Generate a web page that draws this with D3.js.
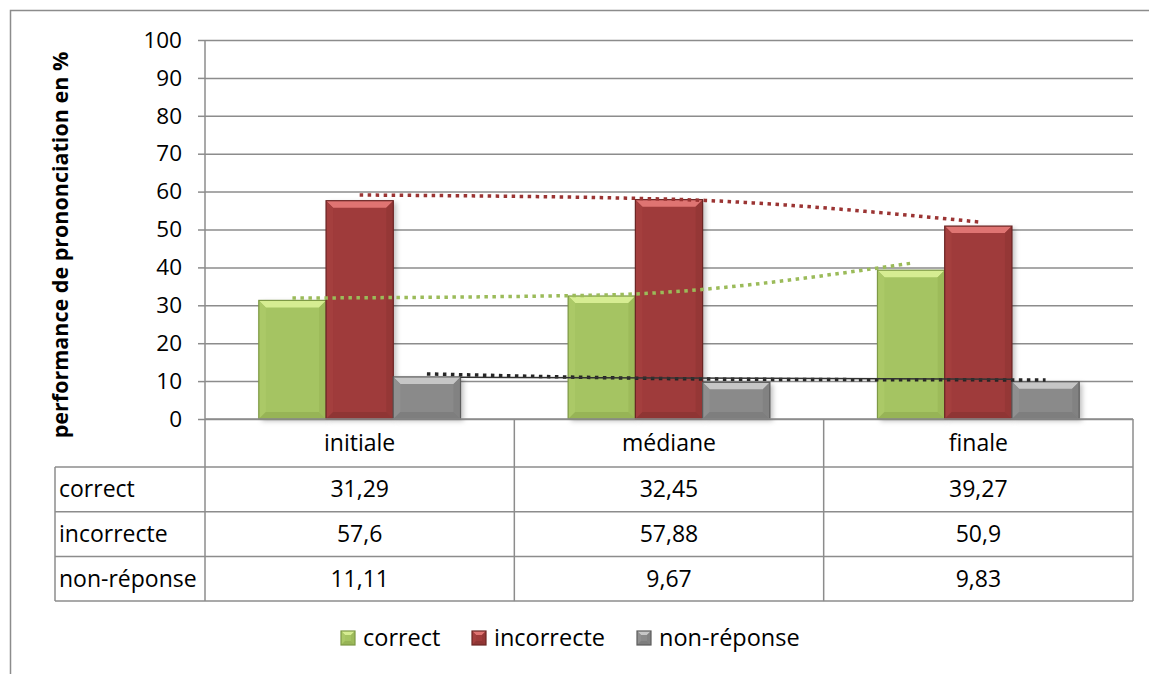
<!DOCTYPE html>
<html>
<head>
<meta charset="utf-8">
<script src="https://cdn.jsdelivr.net/npm/d3@7"></script>
<style>
  html, body { margin: 0; padding: 0; background: #ffffff; }
  svg { display: block; font-family: "Open Sans", sans-serif; }
</style>
</head>
<body>
<svg id="chart" width="1149" height="674"></svg>
<script>
// Data
const categories = ["initiale", "médiane", "finale"];
const seriesNames = ["correct", "incorrecte", "non-réponse"];
const correctValues = [31.29, 32.45, 39.27];
const incorrectValues = [57.6, 57.88, 50.9];
const nonReponseValues = [11.11, 9.67, 9.83];
const tableLabels = [["31,29", "32,45", "39,27"], ["57,6", "57,88", "50,9"], ["11,11", "9,67", "9,83"]];
// dotted trend lines, values read at each bar centre
const correctTrend = [31.9, 32.7, 41.1];
const incorrectTrend = [59.1, 58.0, 52.0];
const nonReponseTrend = [11.9, 10.5, 10.3];
const yTicks = [0, 10, 20, 30, 40, 50, 60, 70, 80, 90, 100];

const seriesValues = [correctValues, incorrectValues, nonReponseValues];
const seriesTrends = [correctTrend, incorrectTrend, nonReponseTrend];

// Colours for the bevelled bars
const palette = [
  {face: "#a5c462", top: "#d6ed92", left: "#abc967", right: "#9dbb5a", bottom: "#97b456", line: "#7d9945", trend: "#9bbb59"},
  {face: "#9f3b3a", top: "#df7472", left: "#a43f3e", right: "#953736", bottom: "#8f3534", line: "#6b2524", trend: "#9b3433"},
  {face: "#8a8a8a", top: "#c6c6c6", left: "#909090", right: "#828282", bottom: "#7e7e7e", line: "#5c5c5c", trend: "#262626"},
];

const svg = d3.select("#chart");
const margin = {left: 205, right: 1133, top: 40, bottom: 419};
const gridColour = "#8c8c8c";

// Scales
const x0 = d3.scaleBand().domain(categories).range([margin.left, margin.right]).padding(0);
const x1 = d3.scaleBand().domain(seriesNames).range([0, x0.bandwidth()]).paddingInner(0).paddingOuter(0.8);
const y = d3.scaleLinear().domain([0, 100]).range([margin.bottom, margin.top]);

// Drop shadow for bars
const defs = svg.append("defs");
const shadow = defs.append("filter").attr("id", "shadow").attr("x", "-20%").attr("y", "-20%").attr("width", "150%").attr("height", "150%");
shadow.append("feDropShadow").attr("dx", 3).attr("dy", 2).attr("stdDeviation", 2.5)
  .attr("flood-color", "#000").attr("flood-opacity", 0.25);

// Chart frame (left and top edges visible)
svg.append("path")
  .attr("d", "M10.5,674 L10.5,10.5 L1149,10.5")
  .attr("fill", "none").attr("stroke", "#8c8c8c").attr("stroke-width", 1.5);

// Gridlines and y axis
const yAxis = d3.axisLeft(y).tickValues(yTicks).tickSize(7).tickPadding(16);
const yG = svg.append("g").attr("transform", `translate(${margin.left},0)`).call(yAxis);
yG.select(".domain").remove();
yG.selectAll(".tick line").attr("stroke", gridColour).attr("stroke-width", 1.5);
yG.selectAll(".tick text").attr("font-size", 22.5).attr("fill", "#000").attr("font-family", "Open Sans");
yG.selectAll(".tick").append("line")
  .attr("x1", 0).attr("x2", margin.right - margin.left)
  .attr("stroke", gridColour).attr("stroke-width", 1.5);

// Axis title
svg.append("text")
  .attr("transform", `translate(68,${(50 + 440) / 2}) rotate(-90)`)
  .attr("text-anchor", "middle")
  .attr("font-size", 21.5).attr("font-weight", "bold")
  .text("performance de prononciation en %");

// Bevelled bar
function bevelBar(g, bx, by, bw, bh, c, b, withShadow) {
  b = Math.min(b, bh / 2, bw / 2);
  const x2 = bx + bw, y2 = by + bh;
  const part = (pts, fill) => g.append("polygon").attr("points", pts.map(p => p.join(",")).join(" ")).attr("fill", fill);
  g.append("rect").attr("x", bx).attr("y", by).attr("width", bw).attr("height", bh)
    .attr("fill", c.face).attr("filter", withShadow ? "url(#shadow)" : null);
  part([[bx, by], [x2, by], [x2 - b, by + b], [bx + b, by + b]], c.top);
  part([[bx, by], [bx + b, by + b], [bx + b, y2 - b], [bx, y2]], c.left);
  part([[x2, by], [x2, y2], [x2 - b, y2 - b], [x2 - b, by + b]], c.right);
  part([[bx, y2], [bx + b, y2 - b], [x2 - b, y2 - b], [x2, y2]], c.bottom);
  g.append("rect").attr("x", bx).attr("y", by).attr("width", bw).attr("height", bh)
    .attr("fill", "none").attr("stroke", c.line).attr("stroke-width", 1.2);
}

// Bars
const barsG = svg.append("g");
seriesNames.forEach((s, si) => {
  categories.forEach((cat, ci) => {
    const v = seriesValues[si][ci];
    bevelBar(barsG, x0(cat) + x1(s), y(v), x1.bandwidth(), y(0) - y(v), palette[si], 7, true);
  });
});

// Trend lines
const trendLine = d3.line().curve(d3.curveMonotoneX);
seriesNames.forEach((s, si) => {
  const pts = categories.map((cat, ci) => [x0(cat) + x1(s) + x1.bandwidth() / 2, y(seriesTrends[si][ci])]);
  svg.append("path")
    .attr("d", trendLine(pts))
    .attr("fill", "none").attr("stroke", palette[si].trend)
    .attr("stroke-width", 3.5).attr("stroke-dasharray", "3.5,4.5");
});
// thin solid line next to the non-réponse trend
svg.append("line")
  .attr("x1", x0(categories[0]) + x1(seriesNames[2]) + x1.bandwidth()).attr("y1", y(11.0))
  .attr("x2", x0(categories[2]) + x1(seriesNames[2])).attr("y2", y(10.5))
  .attr("stroke", "#333").attr("stroke-width", 1.5);

// Data table
const rowTop = 467, rowH = 44.7, tableLeft = 55;
const tableG = svg.append("g").attr("stroke", gridColour).attr("stroke-width", 1.5).attr("fill", "none");
tableG.append("line").attr("x1", margin.left).attr("x2", margin.right).attr("y1", margin.bottom).attr("y2", margin.bottom);
tableG.append("line").attr("x1", margin.left).attr("x2", margin.left).attr("y1", margin.top).attr("y2", rowTop + 3 * rowH);
categories.forEach(cat => {
  tableG.append("line").attr("x1", x0(cat) + x0.bandwidth()).attr("x2", x0(cat) + x0.bandwidth())
    .attr("y1", margin.bottom).attr("y2", rowTop + 3 * rowH);
});
d3.range(4).forEach(i => {
  tableG.append("line").attr("x1", tableLeft).attr("x2", margin.right)
    .attr("y1", rowTop + i * rowH).attr("y2", rowTop + i * rowH);
});
tableG.append("line").attr("x1", tableLeft).attr("x2", tableLeft).attr("y1", rowTop).attr("y2", rowTop + 3 * rowH);

// Category headers
svg.append("g").selectAll("text").data(categories).join("text")
  .attr("x", d => x0(d) + x0.bandwidth() / 2).attr("y", (margin.bottom + rowTop) / 2 + 8)
  .attr("text-anchor", "middle").attr("font-size", 23).text(d => d);

// Row labels and cell values
seriesNames.forEach((s, si) => {
  const cy = rowTop + si * rowH + rowH / 2 + 8;
  svg.append("text").attr("x", tableLeft + 4).attr("y", cy).attr("font-size", 23).text(s);
  svg.append("g").selectAll("text").data(categories).join("text")
    .attr("x", d => x0(d) + x0.bandwidth() / 2).attr("y", cy)
    .attr("text-anchor", "middle").attr("font-size", 23)
    .text((d, ci) => tableLabels[si][ci]);
});

// Legend
const legendX = [341, 472, 637];
const legendG = svg.append("g");
seriesNames.forEach((s, si) => {
  const lg = legendG.append("g");
  bevelBar(lg, legendX[si], 631, 14, 14, palette[si], 4, false);
  lg.append("text").attr("x", legendX[si] + 22).attr("y", 646).attr("font-size", 23.5).text(s);
});
</script>
</body>
</html>
